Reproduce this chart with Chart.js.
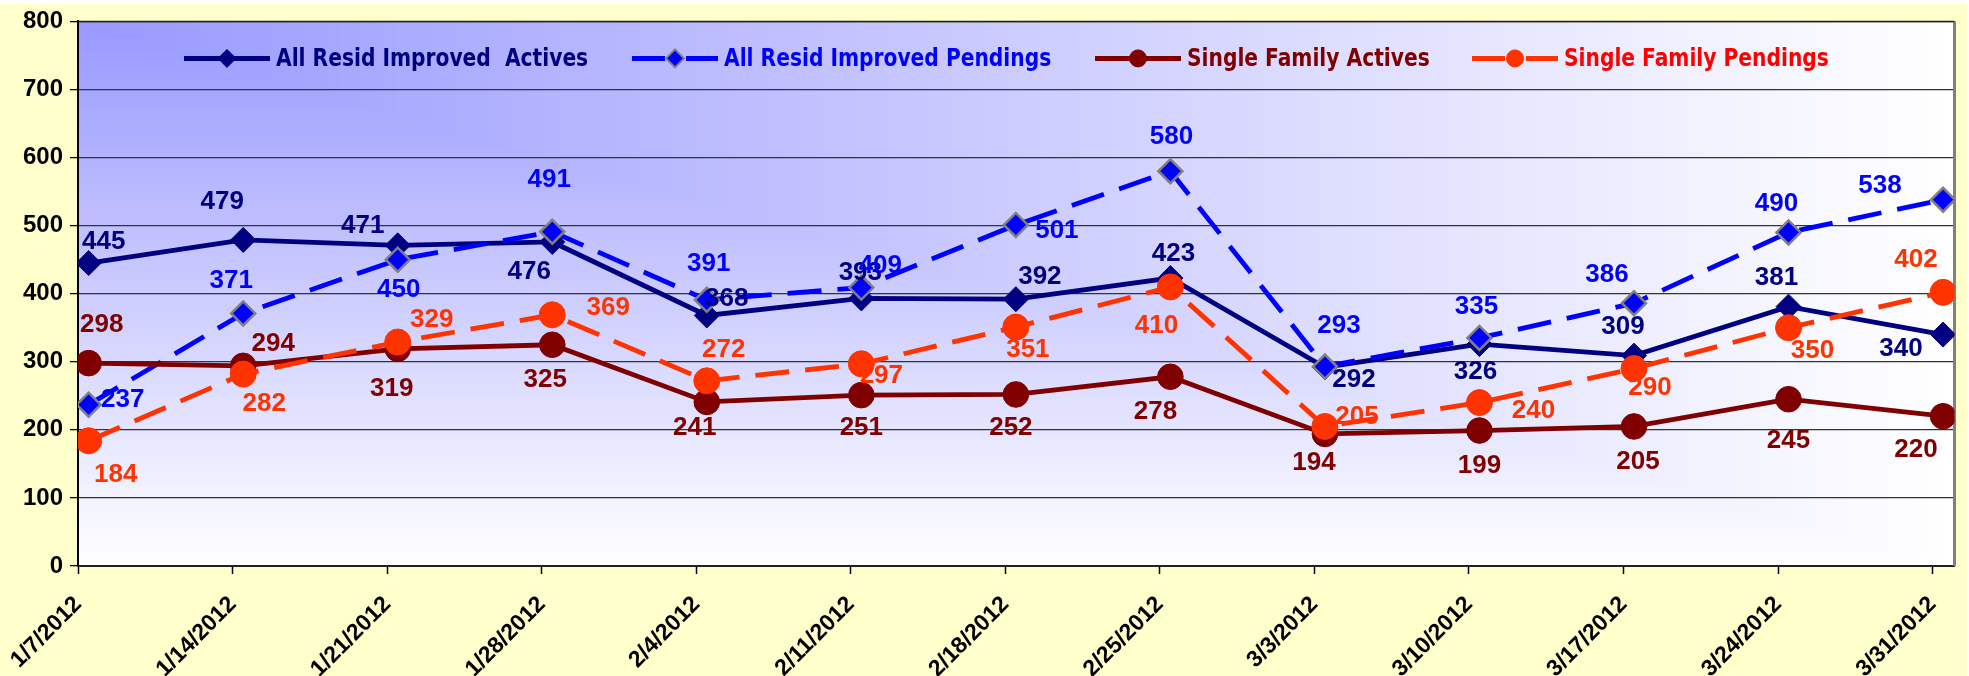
<!DOCTYPE html>
<html>
<head>
<meta charset="utf-8">
<title>Resid Improved and Single Family Actives / Pendings</title>
<script src="https://cdn.jsdelivr.net/npm/chart.js@4.4.1/dist/chart.umd.min.js"></script>
<style>
  html, body { margin: 0; padding: 0; background: #ffffff; }
  canvas { display: block; }
</style>
</head>
<body>
<canvas id="chart" width="1969" height="676"></canvas>
<script>
// ---- data ---------------------------------------------------------------
const categories = ['1/7/2012', '1/14/2012', '1/21/2012', '1/28/2012', '2/4/2012', '2/11/2012',
  '2/18/2012', '2/25/2012', '3/3/2012', '3/10/2012', '3/17/2012', '3/24/2012', '3/31/2012'];

const allResidImprovedActives  = [445, 479, 471, 476, 368, 393, 392, 423, 292, 326, 309, 381, 340];
const allResidImprovedPendings = [237, 371, 450, 491, 391, 409, 501, 580, 293, 335, 386, 490, 538];
const singleFamilyActives      = [298, 294, 319, 325, 241, 251, 252, 278, 194, 199, 205, 245, 220];
const singleFamilyPendings     = [184, 282, 329, 369, 272, 297, 351, 410, 205, 240, 290, 350, 402];

const seriesNames = ['All Resid Improved  Actives', 'All Resid Improved Pendings',
  'Single Family Actives', 'Single Family Pendings'];

const yMin = 0, yMax = 800, yStep = 100;

// ---- label placement (pixel offsets of each value label from its point) ----
const labelOffsets = [
  [[15,-21],[-21,-38],[-35,-20],[-23,30],[20,-17],[-1,-26],[24,-22],[3,-24],[29,13],[-4,28],[-11,-29],[-12,-29],[-42,14]],
  [[34,-5],[-12,-33],[1,30],[-3,-52],[2,-36],[19,-22],[41,6],[1,-34],[14,-41],[-3,-31],[-27,-28],[-12,-29],[-63,-14]],
  [[13,-38],[30,-22],[-6,40],[-7,35],[-12,26],[0,33],[-5,33],[-15,35],[-11,29],[0,35],[4,35],[0,42],[-27,34]],
  [[27,34],[21,30],[34,-22],[56,-7],[17,-31],[20,12],[12,23],[-14,39],[32,-10],[54,8],[16,19],[24,23],[-27,-33]]
];

// ---- styling --------------------------------------------------------------
const NAVY = '#000080', BLUE = '#0000FF', MAROON = '#800000', ORANGE = '#FF3300';
const labelColors  = [NAVY, BLUE, MAROON, ORANGE];
const legendColors = [NAVY, BLUE, MAROON, '#FF0000'];
const BOLD = "'Liberation Sans', Arial, sans-serif";
const NARROW = "'Liberation Sans Narrow', 'Arial Narrow', 'DejaVu Sans Condensed', sans-serif";

// category positions sit a little inside the plot frame; ticks sit just left of them
const EDGE_L = 0.069, EDGE_R = 0.074, TICK_SHIFT = 0.068;

const toPoints = arr => arr.map((v, i) => ({ x: i, y: v }));

function makeSeries(idx, values, color, dashed, style, radius, fill, border, borderW) {
  return {
    label: seriesNames[idx],
    data: toPoints(values),
    borderColor: color,
    borderWidth: 4.8,
    borderDash: dashed ? [34, 16] : [],
    tension: 0,
    fill: false,
    pointStyle: style,
    pointRadius: radius,
    pointHoverRadius: radius,
    pointBackgroundColor: fill,
    pointBorderColor: border,
    pointBorderWidth: borderW,
    order: 4 - idx
  };
}

const datasets = [
  makeSeries(0, allResidImprovedActives,  NAVY,   false, 'rectRot', 12.5, NAVY,   NAVY,      1),
  makeSeries(1, allResidImprovedPendings, BLUE,   true,  'rectRot', 12,   BLUE,   '#808080', 2.5),
  makeSeries(2, singleFamilyActives,      MAROON, false, 'circle',  12.8, MAROON, MAROON,    1),
  makeSeries(3, singleFamilyPendings,     ORANGE, true,  'circle',  13,   ORANGE, ORANGE,    1)
];

// ---- plugins ---------------------------------------------------------------
function lerp(a, b, t) { return Math.round(a + (b - a) * t); }

const backdrop = {
  id: 'backdrop',
  beforeDraw(chart) {
    const { ctx, chartArea: a, width, height } = chart;
    ctx.save();
    ctx.fillStyle = '#ffffff';
    ctx.fillRect(0, 0, width, height);
    ctx.fillStyle = '#FFFFCC';
    ctx.fillRect(0, 4, width - 2, height - 4);
    // plot area: gradient spreading out from the top-left corner
    const W = a.right - a.left, H = a.bottom - a.top;
    const c0 = [0x99, 0x99, 0xFF], c1 = [0xFF, 0xFF, 0xFF];
    const N = 400;
    for (let k = N; k >= 1; k--) {
      const t = k / N;
      ctx.fillStyle = `rgb(${lerp(c0[0], c1[0], t)},${lerp(c0[1], c1[1], t)},${lerp(c0[2], c1[2], t)})`;
      ctx.fillRect(a.left, a.top, W * t, H * t);
    }
    ctx.restore();
  }
};

const frame = {
  id: 'frame',
  beforeDatasetsDraw(chart) {
    const { ctx, chartArea: a } = chart;
    ctx.save();
    ctx.strokeStyle = '#808080';
    ctx.lineWidth = 3;
    ctx.beginPath();
    ctx.moveTo(a.right, a.top);
    ctx.lineTo(a.right, a.bottom);
    ctx.stroke();
    ctx.strokeStyle = '#222222';
    ctx.lineWidth = 1.5;
    ctx.beginPath();
    ctx.moveTo(a.left, a.top);
    ctx.lineTo(a.right, a.top);
    ctx.stroke();
    ctx.restore();
  }
};

const valueLabels = {
  id: 'valueLabels',
  afterDatasetsDraw(chart) {
    const { ctx } = chart;
    ctx.save();
    ctx.font = `bold 26px ${BOLD}`;
    ctx.textAlign = 'center';
    ctx.textBaseline = 'middle';
    chart.data.datasets.forEach((ds, d) => {
      const meta = chart.getDatasetMeta(d);
      ctx.fillStyle = labelColors[d];
      meta.data.forEach((pt, i) => {
        const [dx, dy] = labelOffsets[d][i];
        ctx.fillText(String(ds.data[i].y), pt.x + dx, pt.y + dy);
      });
    });
    ctx.restore();
  }
};

const lineLegend = {
  id: 'lineLegend',
  afterDatasetsDraw(chart) {
    const { ctx, chartArea: a } = chart;
    const starts = [106, 554, 1017, 1394];
    const y = a.top + 37;
    const len = 86;
    const squeeze = 0.9;
    ctx.save();
    chart.data.datasets.forEach((ds, d) => {
      const x0 = a.left + starts[d];
      const cx = x0 + len / 2;
      ctx.strokeStyle = ds.borderColor;
      ctx.lineWidth = 5;
      ctx.setLineDash([]);
      ctx.beginPath();
      if (ds.borderDash.length) {
        ctx.moveTo(x0, y); ctx.lineTo(cx - 10, y);
        ctx.moveTo(cx + 11, y); ctx.lineTo(x0 + len, y);
      } else {
        ctx.moveTo(x0, y); ctx.lineTo(x0 + len, y);
      }
      ctx.stroke();
      ctx.fillStyle = ds.pointBackgroundColor;
      ctx.strokeStyle = ds.pointBorderColor;
      ctx.lineWidth = ds.pointBorderWidth > 1 ? 2 : 1;
      Chart.helpers.drawPoint(ctx, {
        pointStyle: ds.pointStyle,
        radius: ds.pointStyle === 'circle' ? 8.5 : 9,
        rotation: 0,
        borderWidth: ctx.lineWidth
      }, cx, y);
      // legend text, set slightly condensed
      ctx.save();
      ctx.translate(x0 + len + 6, y + 1);
      ctx.scale(squeeze, 1);
      ctx.font = `bold 25px ${NARROW}`;
      ctx.textAlign = 'left';
      ctx.textBaseline = 'middle';
      ctx.fillStyle = legendColors[d];
      ctx.fillText(ds.label, 0, 0);
      ctx.restore();
    });
    ctx.restore();
  }
};

// ---- chart -----------------------------------------------------------------
new Chart(document.getElementById('chart'), {
  type: 'line',
  data: { datasets },
  options: {
    responsive: false,
    animation: false,
    devicePixelRatio: 1,
    layout: { padding: { left: 0, top: 19, right: 11, bottom: 0 } },
    plugins: { legend: { display: false }, tooltip: { enabled: false } },
    scales: {
      x: {
        type: 'linear',
        min: -EDGE_L,
        max: categories.length - 1 + EDGE_R,
        afterBuildTicks(scale) {
          scale.ticks = categories.map((c, i) => ({ value: i - TICK_SHIFT }));
        },
        afterFit(scale) {
          scale.height = 110;
          scale.paddingLeft = 0;
          scale.paddingRight = 0;
        },
        ticks: {
          autoSkip: false,
          minRotation: 45,
          maxRotation: 45,
          padding: 17,
          color: '#000000',
          font: { family: BOLD, size: 23, weight: 'bold' },
          callback: (value, index) => categories[index]
        },
        grid: {
          drawOnChartArea: false,
          drawTicks: true,
          tickLength: 8,
          tickColor: '#000000',
          tickWidth: 1.5
        },
        border: { display: true, color: '#222222', width: 2 }
      },
      y: {
        min: yMin,
        max: yMax,
        afterFit(scale) { scale.width = 78; },
        ticks: {
          stepSize: yStep,
          padding: 7,
          color: '#000000',
          font: { family: BOLD, size: 24, weight: 'bold' }
        },
        grid: {
          color: '#333333',
          lineWidth: 1.3,
          drawTicks: true,
          tickLength: 8,
          tickColor: '#000000'
        },
        border: { display: true, color: '#000000', width: 2 }
      }
    }
  },
  plugins: [backdrop, frame, valueLabels, lineLegend]
});
</script>
</body>
</html>
